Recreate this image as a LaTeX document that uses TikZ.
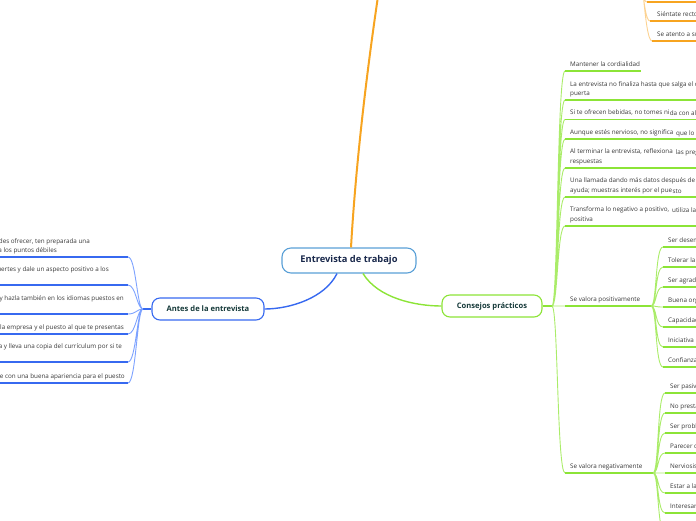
\documentclass[tikz,border=0pt]{standalone}
\usepackage{fontspec}
\setmainfont{Open Sans}
\usetikzlibrary{positioning,calc}
\definecolor{MapaCentro}{RGB}{90,160,215}
\definecolor{MapaCentroTexto}{RGB}{25,40,75}
\definecolor{MapaRamaTexto}{RGB}{22,58,58}
\definecolor{MapaTexto}{RGB}{55,55,55}
\definecolor{MapaAzul}{RGB}{55,105,240}
\definecolor{MapaAzulClaro}{RGB}{125,162,255}
\definecolor{MapaVerde}{RGB}{140,228,55}
\definecolor{MapaVerdeClaro}{RGB}{170,236,105}
\definecolor{MapaNaranja}{RGB}{247,164,32}
\definecolor{MapaNaranjaClaro}{RGB}{252,210,145}
\tikzset{
  central/.style={draw=MapaCentro, line width=1.1pt, fill=white, rounded corners=9pt,
                  minimum width=134pt, minimum height=25pt, inner sep=0pt,
                  text=MapaCentroTexto, font=\fontsize{9.3}{11}\selectfont\bfseries},
  rama/.style={draw=#1, line width=1.1pt, fill=white, rounded corners=8pt,
               minimum height=22pt, inner sep=0pt,
               text=MapaRamaTexto, font=\fontsize{7.6}{9}\selectfont\bfseries},
  texto/.style={anchor=base west, inner sep=0pt, text=MapaTexto, font=\fontsize{6.3}{8}\selectfont},
  textoizq/.style={texto, anchor=base east},
  subrayado/.style={line width=1.6pt, #1},
  conector/.style={line width=0.9pt, #1, to path={.. controls +(6,0) and +(-8,0) .. (\tikztotarget)}},
  conectorizq/.style={line width=0.9pt, #1, to path={.. controls +(-6,0) and +(8,0) .. (\tikztotarget)}},
}
\begin{document}
\begin{tikzpicture}[x=1pt, y=-1pt]
  \useasboundingbox (0,0) rectangle (696,520);
  \clip (0,0) rectangle (696,520);

  % Centro y ramas principales
  \node[central] (centro) at (349,260.5) {Entrevista de trabajo};
  \node[rama=MapaAzul, minimum width=112pt] (antes) at (208,309) {Antes de la entrevista};
  \node[rama=MapaVerde, minimum width=100pt] (consejos) at (492,306) {Consejos prácticos};
  \coordinate (arriba) at (382,-30);
  \draw[MapaNaranja, line width=2pt] ($(centro.north)+(2,0)$) .. controls (356,160) and (368,60) .. (arriba);
  \draw[MapaAzul, line width=1.4pt] ($(centro.south)+(-12,0)$) .. controls (325,298) and (290,309) .. (antes.east);
  \draw[MapaVerde, line width=1.4pt] ($(centro.south)+(14,0)$) .. controls (378,298) and (415,306) .. (consejos.west);

  % Rama naranja (cortada arriba)
  \coordinate (oj) at (636,-50);
  \coordinate (o1) at (647,2);
  \coordinate (o2) at (650,21);
  \coordinate (o3) at (652,41);
  \draw[conector=MapaNaranjaClaro] (oj) to (o1) (oj) to (o2) (oj) to (o3);
  \draw[subrayado=MapaNaranja] (o1) -- ++(60,0) (o2) -- ++(60,0) (o3) -- ++(60,0);
  \node[texto] (to2) at (657,16) {Siéntate recto};
  \node[texto] (to3) at (657,36) {Se atento a su};

  % Antes de la entrevista
  \coordinate (aj) at (143,309);
  \draw[MapaAzul, line width=2.2pt] (antes.west) -- (aj);
  \coordinate (a1) at (128,257);
  \coordinate (a2) at (128,285);
  \coordinate (a3) at (128,314);
  \coordinate (a4) at (128,334);
  \coordinate (a5) at (128,362);
  \coordinate (a6) at (128,383);
  \draw[conectorizq=MapaAzulClaro] (aj) to (a1) (aj) to (a2) (aj) to (a3)
                                   (aj) to (a4) (aj) to (a5) (aj) to (a6);
  \draw[subrayado=MapaAzul] (a1) -- ++(-135,0) (a2) -- ++(-135,0) (a3) -- ++(-135,0)
                            (a4) -- ++(-135,0) (a5) -- ++(-135,0) (a6) -- ++(-135,0);
  \node[textoizq] (ta1) at (90,243.5) {uedes ofrecer, ten preparada una};
  \node[textoizq] (ta1b) at (57,252) {ra los puntos débiles};
  \node[textoizq] (ta2) at (109,271.5) {fuertes y dale un aspecto positivo a los};
  \node[textoizq] (ta3) at (124,300.5) {ta y hazla también en los idiomas puestos en};
  \node[textoizq] (ta4) at (124,329) {e la empresa y el puesto al que te presentas};
  \node[textoizq] (ta5) at (122,348.5) {ora y lleva una copia del currículum por si te};
  \node[textoizq] (ta6) at (125,378) {ste con una buena apariencia para el puesto};

  % Consejos prácticos
  \coordinate (cj) at (552,306);
  \draw[MapaVerde, line width=2.4pt] (consejos.east) -- (cj);
  \coordinate (c1) at (565,71);
  \coordinate (c2) at (565,100);
  \coordinate (c3) at (565,119.5);
  \coordinate (c4) at (565,139);
  \coordinate (c5) at (565,168);
  \coordinate (c6) at (565,197);
  \coordinate (c7) at (565,226);
  \coordinate (c8) at (565,306);
  \coordinate (c9) at (565,473);
  \coordinate (pj) at (651,306);
  \coordinate (nj) at (653,473);
  \draw[conector=MapaVerdeClaro] (cj) to (c1) (cj) to (c2) (cj) to (c3) (cj) to (c4) (cj) to (c5)
                                 (cj) to (c6) (cj) to (c7) (cj) to (c8) (cj) to (c9);
  \draw[subrayado=MapaVerde] (c1) -- ++(76,0) (c2) -- ++(140,0) (c3) -- ++(140,0) (c4) -- ++(140,0)
                             (c5) -- ++(140,0) (c6) -- ++(140,0) (c7) -- ++(140,0)
                             (c8) -- (pj) (c9) -- (nj);
  \node[texto] (t1) at (570,66) {Mantener la cordialidad};
  \node[texto] (t2) at (570,86) {La entrevista no finaliza hasta que salga el ca};
  \node[texto] (t2b) at (570,95) {puerta};
  \node[texto] (t3) at (570,114.5) {Si te ofrecen bebidas, no tomes ni};
  \node[texto] (t3b) at ($(t3.base east)+(0,1)$) {da con alco};
  \node[texto] (t4) at (570,134) {Aunque estés nervioso, no significa};
  \node[texto] (t4b) at ($(t4.base east)+(2.5,1)$) {que lo no};
  \node[texto] (t5) at (570,153.5) {Al terminar la entrevista, reflexiona};
  \node[texto] (t5b) at ($(t5.base east)+(2.5,1)$) {las pregu};
  \node[texto] (t5c) at (570,163) {respuestas};
  \node[texto] (t6) at (570,182.5) {Una llamada dando más datos después de la};
  \node[texto] (t6b) at (570,192) {ayuda; muestras interés por el pue};
  \node[texto] (t6c) at ($(t6b.base east)+(0,1)$) {sto};
  \node[texto] (t7) at (570,211.5) {Transforma lo negativo a positivo,};
  \node[texto] (t7b) at ($(t7.base east)+(2.5,1)$) {utiliza la re};
  \node[texto] (t7c) at (570,221) {positiva};
  \node[texto] (t8) at (570,301) {Se valora positivamente};
  \node[texto] (t9) at (570,468) {Se valora negativamente};

  % Se valora positivamente
  \coordinate (p1) at (663,247);
  \coordinate (p2) at (663,267);
  \coordinate (p3) at (663,287);
  \coordinate (p4) at (663,307);
  \coordinate (p5) at (663,327);
  \coordinate (p6) at (663,347);
  \coordinate (p7) at (663,367);
  \draw[conector=MapaVerdeClaro] (pj) to (p1) (pj) to (p2) (pj) to (p3) (pj) to (p4)
                                 (pj) to (p5) (pj) to (p6) (pj) to (p7);
  \draw[subrayado=MapaVerde] (p1) -- ++(40,0) (p2) -- ++(40,0) (p3) -- ++(40,0) (p4) -- ++(40,0)
                             (p5) -- ++(40,0) (p6) -- ++(40,0) (p7) -- ++(40,0);
  \node[texto] (tp1) at (668,242) {Ser desem};
  \node[texto] (tp2) at (668,262) {Tolerar la};
  \node[texto] (tp3) at (668,282) {Ser agrad};
  \node[texto] (tp4) at (668,302) {Buena org};
  \node[texto] (tp5) at (668,322) {Capacidad};
  \node[texto] (tp6) at (668,342) {Iniciativa};
  \node[texto] (tp7) at (668,362) {Confianza};

  % Se valora negativamente
  \coordinate (n1) at (665,393);
  \coordinate (n2) at (665,413);
  \coordinate (n3) at (665,433);
  \coordinate (n4) at (665,453);
  \coordinate (n5) at (665,473);
  \coordinate (n6) at (665,493);
  \coordinate (n7) at (665,513);
  \coordinate (n8) at (665,533);
  \draw[conector=MapaVerdeClaro] (nj) to (n1) (nj) to (n2) (nj) to (n3) (nj) to (n4)
                                 (nj) to (n5) (nj) to (n6) (nj) to (n7) (nj) to (n8);
  \draw[subrayado=MapaVerde] (n1) -- ++(40,0) (n2) -- ++(40,0) (n3) -- ++(40,0) (n4) -- ++(40,0)
                             (n5) -- ++(40,0) (n6) -- ++(40,0) (n7) -- ++(40,0);
  \node[texto] (tn1) at (670,388) {Ser pasiv};
  \node[texto] (tn2) at (670,408) {No presta};
  \node[texto] (tn3) at (670,428) {Ser probl};
  \node[texto] (tn4) at (670,448) {Parecer d};
  \node[texto] (tn5) at (670,468) {Nerviosis};
  \node[texto] (tn6) at (670,488) {Estar a la};
  \node[texto] (tn7) at (670,508) {Interesar};
\end{tikzpicture}
\end{document}
